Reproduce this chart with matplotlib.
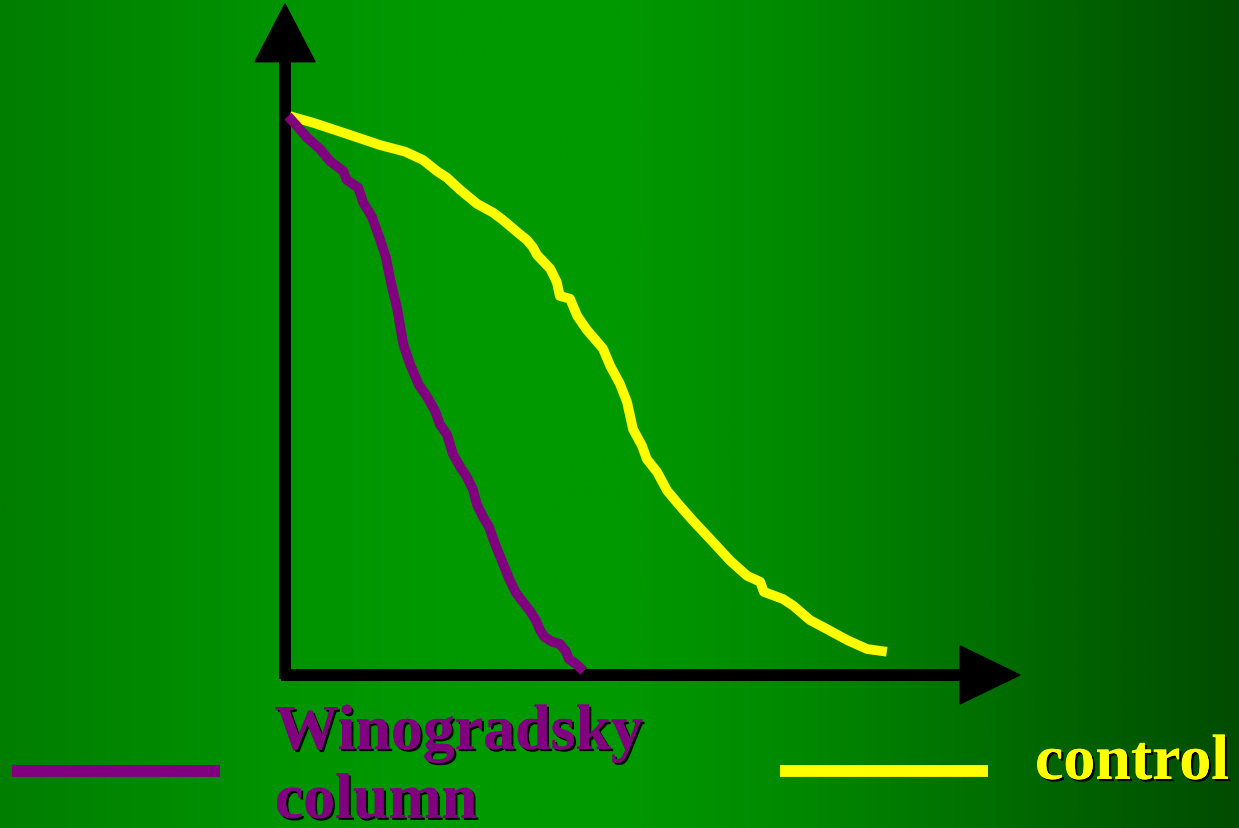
import numpy as np
import matplotlib
matplotlib.use("Agg")
import matplotlib.pyplot as plt
from matplotlib.colors import LinearSegmentedColormap
from matplotlib.patches import Polygon
import matplotlib.patheffects as pe

# survival curves (time, amount in %)
wino_t = [0.05, 0.2, 0.37, 0.58, 0.75, 0.97, 1.03, 1.22, 1.3, 1.45, 1.58, 1.68, 1.77,
          1.87, 1.97, 2.07, 2.15, 2.23, 2.37, 2.5, 2.58, 2.7, 2.8, 2.92, 3.03, 3.13,
          3.2, 3.3, 3.4, 3.48, 3.58, 3.67, 3.75, 3.85, 3.95, 4.08, 4.18, 4.25, 4.32,
          4.45, 4.58, 4.68, 4.73, 4.85, 4.98]
wino_y = [100.5, 98.7, 96.6, 94.6, 92.4, 90.6, 89.0, 87.6, 85.0, 82.3, 78.4, 75.1, 70.3,
          65.8, 59.5, 56.2, 54.1, 52.1, 49.9, 47.4, 45.0, 43.1, 39.6, 37.3, 35.5, 33.3,
          30.5, 28.3, 26.5, 24.0, 21.3, 18.9, 16.8, 14.6, 13.2, 11.4, 9.7, 7.9, 6.7,
          5.8, 5.4, 4.1, 2.7, 1.8, 0.5]

ctrl_t = [0.08, 0.47, 1.03, 1.58, 2.0, 2.3, 2.53, 2.7, 2.92, 3.2, 3.47, 3.63, 3.87, 4.03,
          4.13, 4.2, 4.42, 4.53, 4.58, 4.75, 4.87, 5.03, 5.3, 5.42, 5.58, 5.7, 5.8, 5.95,
          6.03, 6.2, 6.37, 6.58, 6.8, 7.13, 7.42, 7.7, 7.92, 7.98, 8.3, 8.47, 8.75, 9.03,
          9.37, 9.7, 10.03]
ctrl_y = [100.5, 99.3, 97.3, 95.3, 94.1, 92.6, 90.6, 89.4, 87.2, 84.7, 83.1, 81.8, 79.6,
          78.2, 76.9, 75.5, 73.0, 70.6, 68.1, 67.6, 64.5, 62.0, 58.6, 55.5, 52.3, 49.0,
          44.1, 41.1, 38.7, 36.4, 33.0, 30.3, 27.6, 23.8, 20.4, 17.7, 16.6, 14.8, 13.5,
          12.3, 9.7, 8.1, 6.1, 4.5, 4.0]

labels = ["Winogradsky", "column", "control"]
colors = ["#800080", "#ffff00"]

fig = plt.figure(figsize=(12.39, 8.29), dpi=100)
ax = fig.add_axes([0, 0, 1, 1])
x0, x1, y0, y1 = -4.75, 15.9, -27.75, 121.6
ax.set_xlim(x0, x1)
ax.set_ylim(y0, y1)
ax.axis("off")

# background gradient
bg = LinearSegmentedColormap.from_list("bg", [
    (0.0, "#007e00"), (0.22, "#009300"), (0.35, "#009900"), (0.5, "#009900"),
    (0.65, "#008800"), (0.8, "#006e00"), (1.0, "#004c00")])
ax.imshow(np.linspace(0, 1, 512)[None, :], cmap=bg, aspect="auto",
          extent=[x0, x1, y0, y1], zorder=0)

# axes with arrow heads
ax.plot([0, 0], [-0.9, 110.5], color="black", lw=8.6, solid_capstyle="butt", zorder=2)
ax.plot([-0.07, 11.3], [-0.18, -0.18], color="black", lw=8.6, solid_capstyle="butt", zorder=2)
ax.add_patch(Polygon([[-0.5, 110.3], [0.5, 110.3], [0, 120.7]], closed=True,
                     color="black", zorder=2))
ax.add_patch(Polygon([[11.25, 5.05], [11.25, -5.4], [12.25, -0.18]], closed=True,
                     color="black", zorder=2))

# curves
ax.plot(ctrl_t, ctrl_y, color=colors[1], lw=7.0, solid_joinstyle="round",
        solid_capstyle="butt", zorder=3)
ax.plot(wino_t, wino_y, color=colors[0], lw=7.0, solid_joinstyle="round",
        solid_capstyle="butt", zorder=4)

# legend
shadow = [pe.withSimplePatchShadow(offset=(1.6, -1.6), shadow_rgbFace="black", alpha=1.0),
          pe.Normal()]
font = dict(family="Liberation Serif", weight="bold", fontsize=46)

ax.plot([-4.55, -1.08], [-17.5, -17.5], color=colors[0], lw=8.5, solid_capstyle="butt")
ax.text(-0.17, -13.5, labels[0], color=colors[0], ha="left", va="baseline",
        path_effects=shadow, **font)
ax.text(-0.17, -25.9, labels[1], color=colors[0], ha="left", va="baseline",
        path_effects=shadow, **font)

ax.plot([8.25, 11.72], [-17.5, -17.5], color=colors[1], lw=8.5, solid_capstyle="butt")
ax.text(12.5, -18.9, labels[2], color=colors[1], ha="left", va="baseline",
        path_effects=shadow, **font)

fig.savefig("out.png", dpi=100)
